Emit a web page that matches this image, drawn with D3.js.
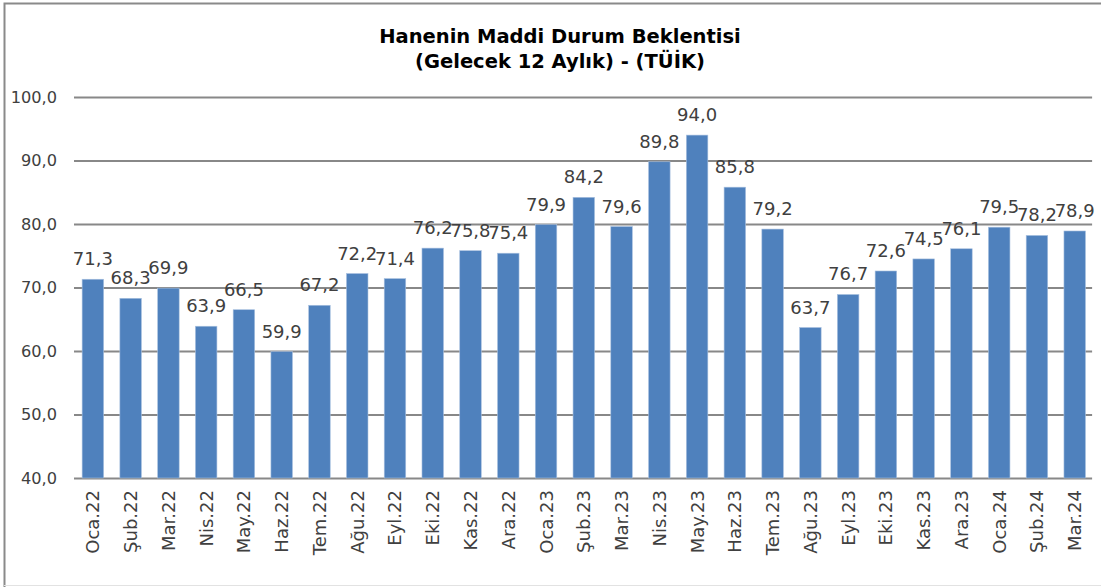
<!doctype html>
<html lang="tr">
<head>
<meta charset="utf-8">
<script src="https://cdn.jsdelivr.net/npm/d3@7/dist/d3.min.js"></script>
<style>
  body { margin: 0; background: #fff; }
  svg { display: block; font-family: "DejaVu Sans", sans-serif; }
  .tick text { fill: #404040; }
  .lbl { fill: #404040; }
</style>
</head>
<body>
<div id="chart"></div>
<script>
// values
var months = ["Oca.22","Şub.22","Mar.22","Nis.22","May.22","Haz.22","Tem.22","Ağu.22","Eyl.22","Eki.22","Kas.22","Ara.22",
              "Oca.23","Şub.23","Mar.23","Nis.23","May.23","Haz.23","Tem.23","Ağu.23","Eyl.23","Eki.23","Kas.23","Ara.23",
              "Oca.24","Şub.24","Mar.24"];
var values = [71.3, 68.3, 69.9, 63.9, 66.5, 59.9, 67.2, 72.2, 71.4, 76.2, 75.8, 75.4,
              79.9, 84.2, 79.6, 89.8, 94.0, 85.8, 79.2, 63.7, 68.9, 72.6, 74.5, 76.1,
              79.5, 78.2, 78.9];
// data labels as printed (Eyl.23 label differs from its bar in the source)
var labels = ["71,3","68,3","69,9","63,9","66,5","59,9","67,2","72,2","71,4","76,2","75,8","75,4",
              "79,9","84,2","79,6","89,8","94,0","85,8","79,2","63,7","76,7","72,6","74,5","76,1",
              "79,5","78,2","78,9"];
var yTicks = [40, 50, 60, 70, 80, 90, 100];
var titleLines = ["Hanenin Maddi Durum Beklentisi", "(Gelecek 12 Aylık) - (TÜİK)"];

var W = 1101, H = 587;
var margin = {top: 97, right: 8, bottom: 109, left: 74};
var width = 1093.6 - margin.left,
    height = H - margin.top - margin.bottom;

var svg = d3.select("#chart").append("svg")
    .attr("width", W)
    .attr("height", H);

// chart frame
svg.append("path")
    .attr("d", "M4.5,587V3.5H1101")
    .attr("fill", "none")
    .attr("stroke", "#8a8a8a")
    .attr("stroke-width", 2);
svg.append("line")
    .attr("x1", 4).attr("x2", W).attr("y1", 585.5).attr("y2", 585.5)
    .attr("stroke", "#e2e2e2");

// title
svg.append("text")
    .attr("x", 560)
    .attr("y", 43)
    .attr("text-anchor", "middle")
    .attr("font-weight", "bold")
    .attr("font-size", "19.5px")
    .attr("fill", "#000")
    .selectAll("tspan")
    .data(titleLines)
    .join("tspan")
    .attr("x", 560)
    .attr("dy", (d, i) => i ? 25 : 0)
    .text(d => d);

var g = svg.append("g")
    .attr("transform", "translate(" + margin.left + "," + margin.top + ")");

var x = d3.scaleBand()
    .domain(months)
    .range([0, width])
    .paddingInner(0.43)
    .paddingOuter(0.215);

var y = d3.scaleLinear()
    .domain([40, 100])
    .range([height, 0]);

// gridlines + y labels
g.append("g")
    .call(d3.axisLeft(y)
        .tickValues(yTicks)
        .tickSize(-(width - 1.5))
        .tickPadding(17)
        .tickFormat(d => d3.format(".1f")(d).replace(".", ",")))
    .call(a => a.select(".domain").remove())
    .call(a => a.selectAll(".tick line")
        .attr("stroke", "#888")
        .attr("stroke-width", 2))
    .call(a => a.selectAll(".tick text")
        .attr("font-size", "16.2px")
        .attr("font-family", "DejaVu Sans"));

// bars
g.append("g")
    .selectAll("rect")
    .data(values)
    .join("rect")
    .attr("x", (d, i) => x(months[i]))
    .attr("y", d => y(d))
    .attr("width", x.bandwidth())
    .attr("height", d => height - y(d))
    .attr("fill", "#4f81bd")
    .attr("stroke", "#a9c1e0")
    .attr("stroke-width", 0.6);

// data labels
g.append("g")
    .selectAll("text")
    .data(values)
    .join("text")
    .attr("class", "lbl")
    .attr("x", (d, i) => x(months[i]) + x.bandwidth() / 2)
    .attr("y", d => y(d) - 14)
    .attr("text-anchor", "middle")
    .attr("font-size", "18px")
    .text((d, i) => labels[i]);

// x labels, rotated
g.append("g")
    .attr("transform", "translate(0," + height + ")")
    .call(d3.axisBottom(x).tickSize(0).tickPadding(0))
    .call(a => a.select(".domain").remove())
    .call(a => a.selectAll(".tick text")
        .attr("font-size", "18px")
        .attr("font-family", "DejaVu Sans")
        .attr("text-anchor", "end")
        .attr("transform", "rotate(-90)")
        .attr("x", -12)
        .attr("y", 0)
        .attr("dy", "0.36em"));
</script>
</body>
</html>
